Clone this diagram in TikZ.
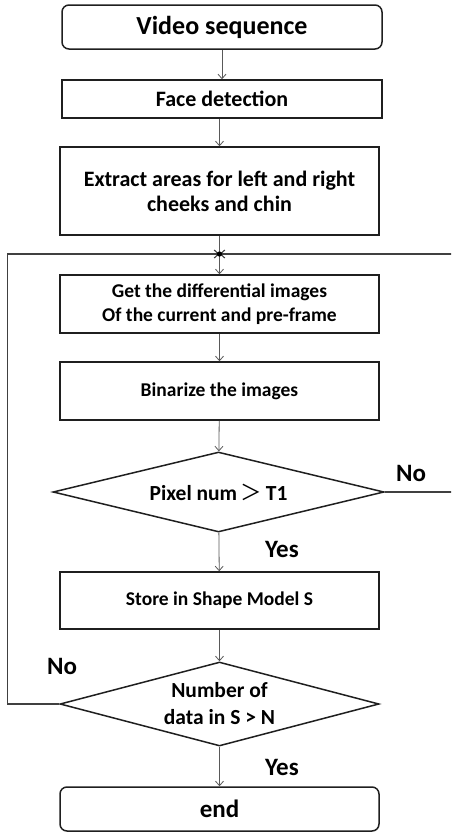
\documentclass[tikz,border=0pt]{standalone}
\usepackage{fontspec}
\setmainfont{Carlito}
\newfontfamily\cjkfont{Noto Sans CJK SC}
\usetikzlibrary{arrows.meta,shapes.geometric}

\begin{document}
\begin{tikzpicture}[x=1pt,y=-1pt,
  box/.style={draw=black!88, line width=1.5pt, fill=white, inner sep=0pt,
    align=center, minimum width=319pt},
  rbox/.style={box, rounded corners=7pt},
  choice/.style={box, diamond, aspect=4},
  flow/.style={draw=black!65, line width=0.8pt,
    -{Straight Barb[length=4.5pt,width=8pt]}},
  loopline/.style={draw=black!75, line width=1.1pt,
    -{Straight Barb[length=4.5pt,width=8pt]}},
  fsz/.style 2 args={font=\bfseries\fontsize{#1}{#2}\selectfont},
  lbl/.style={fsz={25}{28}, inner sep=0pt}
]
\useasboundingbox (0,0) rectangle (451,833);
\clip (0,0) rectangle (451,833);

% process steps
\node[rbox, minimum width=320pt, minimum height=44pt, fsz={26}{30}] (vs) at (222,27) {Video sequence};
\node[box, minimum width=320pt, minimum height=38pt, fsz={22}{25}] (fd) at (222,99) {Face detection};
\node[box, minimum height=88pt, fsz={22}{25}] (ex) at (219.5,191)
  {Extract areas for left and right\\cheeks and chin};
\coordinate (jn) at (219.5,254);
\node[box, minimum height=58pt, fsz={19.5}{24}] (gd) at (219.5,304)
  {Get the differential images\\Of the current and pre-frame};
\node[box, minimum height=58pt, fsz={19.5}{24}] (bi) at (219.5,391) {Binarize the images};
\node[choice, minimum width=331pt, minimum height=80pt, fsz={21.5}{24}] (d1) at (218.5,492)
  {Pixel num{\cjkfont\mdseries\,＞\,}T1};
\node[box, minimum height=57pt, fsz={19.5}{24}] (st) at (219.5,600.5) {Store in Shape Model S};
\node[choice, minimum height=84pt, fsz={21.5}{27}] (d2) at (219.5,704)
  {Number of\\data in S > N};
\node[rbox, minimum height=44pt, fsz={25}{28}] (en) at (219.5,809) {end};

% branch labels
\node[lbl] (no1) at (411,473) {No};
\node[lbl] (yes1) at (282,549) {Yes};
\node[lbl] (no2) at (62,666) {No};
\node[lbl] (yes2) at (282,767) {Yes};

% main flow
\draw[flow] (vs) -- (fd);
\draw[flow] (ex.north |- fd.south) -- (ex.north);
\draw[draw=black!65, line width=0.8pt] (ex) -- (jn);
\draw[flow] (jn) -- (gd);
\draw[flow] (gd) -- (bi);
\draw[flow] (bi) -- (d1);
\draw[flow] (d1) -- (st);
\draw[flow] (st) -- (d2);
\draw[flow] (d2) -- (en);

% feedback loops
\draw[loopline] (d2.west) -- ++(-52,0) |- (jn);
\draw[loopline] (d1.east) -- ++(80,0) |- (jn);
\fill (jn) circle (2.6pt);
\end{tikzpicture}
\end{document}
